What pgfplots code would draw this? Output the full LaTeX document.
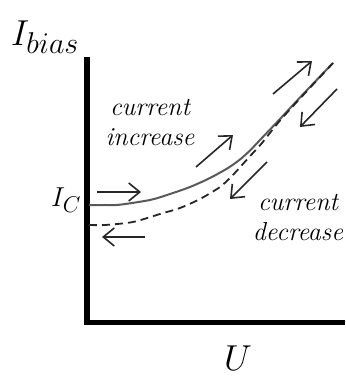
\documentclass[border=0pt]{standalone}
\usepackage{pgfplots}
\pgfplotsset{compat=1.18}
\usetikzlibrary{arrows.meta}

\begin{document}
\begin{tikzpicture}
\begin{axis}[
  x=1pt, y=1pt,
  xmin=87, xmax=342.5,
  ymin=56.5, ymax=319.5,
  axis lines=left,
  axis line style={-, line width=5pt, line cap=rect, black},
  xtick=\empty, ytick=\empty,
  clip=false,
]
  % rising branch (current increase)
  \addplot[black!65, line width=2pt, smooth, tension=0.45] coordinates {
    (89,174) (105,174) (120,174.3) (150,179) (167,184) (190,192) (210,201)
    (228,211) (240,219.5) (250,228.5) (260,239) (280,260) (300,281.5) (320,302.5) (333,316)
  };
  % falling branch (current decrease)
  \addplot[black!85, line width=1.8pt, dash pattern=on 8pt off 5pt, smooth, tension=0.45] coordinates {
    (89,154) (105,154) (133,157) (160,165) (180,171) (200,180)
    (220,192) (232,203) (242,214) (252,225) (262,236) (280,258.5) (300,280.5) (320,302) (333,316)
  };

  % direction arrows
  \pgfplotsset{dirarrow/.style={black!85, line width=1.6pt,
    -{Straight Barb[length=11pt, width=18pt, line width=1.6pt]}}}
  \addplot[dirarrow] coordinates {(97,187) (141,187)};
  \addplot[dirarrow] coordinates {(145,142) (102,142)};
  \addplot[dirarrow] coordinates {(196,212) (233,244)};
  \addplot[dirarrow] coordinates {(273,285) (312,318)};
  \addplot[dirarrow] coordinates {(337,290) (300,252)};
  \addplot[dirarrow] coordinates {(267,217) (230,180)};

  % labels (math fonts come in fixed sizes, so scale the node)
  \node[scale=1.45] at (axis cs:45,342) {\Huge $I_{bias}$};
  \node[scale=1.45] at (axis cs:238,21) {\Huge $U$};
  \node[scale=1.1] at (axis cs:66,179) {\Huge $I_C$};
  \node[align=center, font=\fontsize{26}{30}\selectfont\itshape] at (axis cs:150,256) {current\\increase};
  \node[align=center, font=\fontsize{26}{30}\selectfont\itshape] at (axis cs:298,161) {current\\decrease};

  \coordinate (bl) at (axis cs:0,0);
  \coordinate (tr) at (axis cs:345,379);
\end{axis}
\pgfresetboundingbox
\path[use as bounding box] (bl) rectangle (tr);
\end{tikzpicture}
\end{document}
